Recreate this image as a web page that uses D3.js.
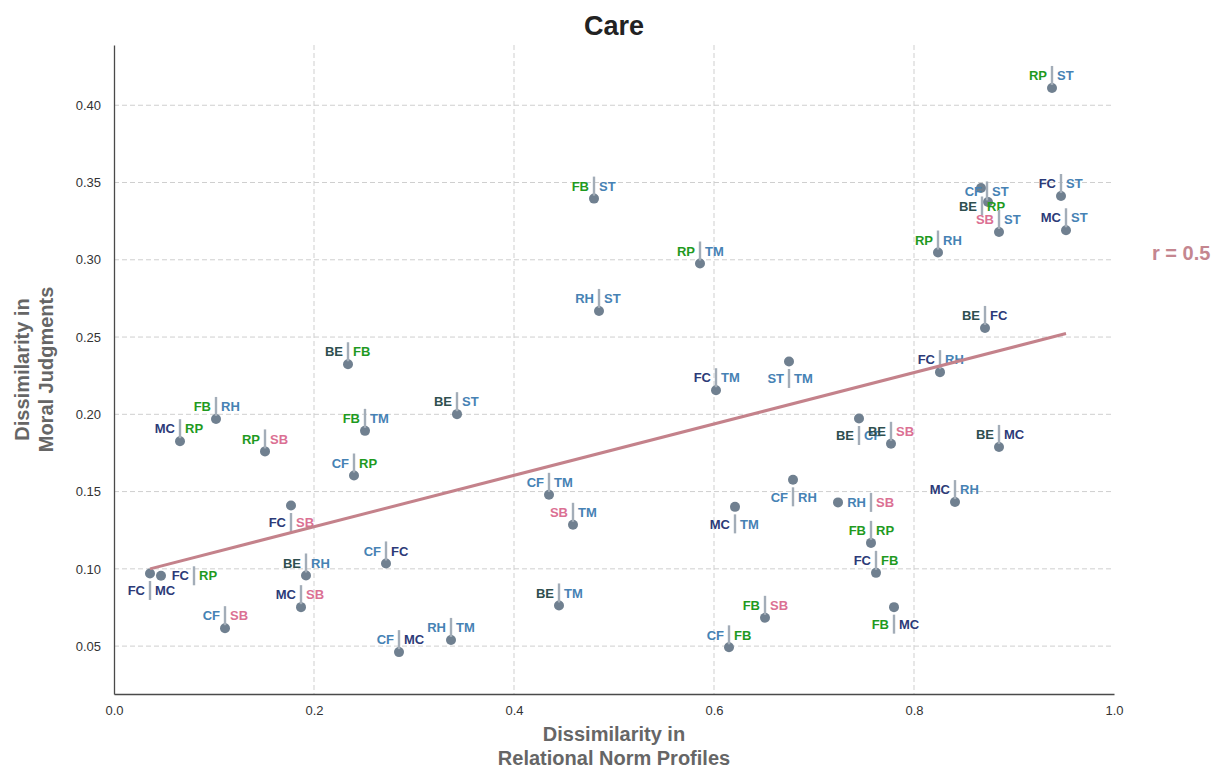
<!DOCTYPE html>
<html>
<head>
<meta charset="utf-8">
<script src="https://cdn.jsdelivr.net/npm/d3@7"></script>
<style>
  html, body { margin: 0; padding: 0; background: #fff; }
  svg { display: block; font-family: "Liberation Sans", Arial, Helvetica, sans-serif; }
</style>
</head>
<body>
<svg id="chart" width="1231" height="770"></svg>
<script>
// Relationship codes and their label colours
const categories = ["BE", "CF", "FB", "FC", "MC", "RH", "RP", "SB", "ST", "TM"];
const categoryColors = ["#2f4f4f", "#4682b4", "#1f9a1f", "#2c3a78", "#2c3a78",
                        "#4682b4", "#1f9a1f", "#db7093", "#4682b4", "#4682b4"];

// Pairwise comparisons: left code, right code
const pairLeft  = ["BE","FB","MC","RP","FB","CF","FC","FC","FC","BE","MC","CF","BE","CF","SB",
                   "CF","BE","RH","CF","FC","BE","BE","CF","RH","MC","FB","FC","FB","CF","FB",
                   "BE","FC","BE","MC","RP","CF","BE","SB","FC","MC","RP","FB","RP","RH","ST"];
const pairRight = ["FB","RH","RP","SB","TM","RP","SB","MC","RP","RH","SB","SB","ST","TM","TM",
                   "FC","TM","TM","MC","TM","CF","SB","RH","SB","TM","RP","FB","SB","FB","MC",
                   "FC","RH","MC","RH","ST","ST","RP","ST","ST","ST","RH","ST","TM","ST","TM"];

// Dissimilarity in relational norm profiles (x)
const normDissim = [0.234,0.102,0.066,0.151,0.251,0.240,0.177,0.036,0.047,0.192,0.187,0.111,0.343,0.435,0.459,
                    0.272,0.445,0.337,0.285,0.602,0.745,0.777,0.679,0.724,0.621,0.757,0.762,0.651,0.615,0.780,
                    0.871,0.826,0.885,0.841,0.938,0.867,0.874,0.885,0.947,0.952,0.824,0.480,0.586,0.485,0.675];

// Dissimilarity in moral judgments (y)
const moralDissim = [0.2324,0.1970,0.1826,0.1760,0.1893,0.1604,0.1410,0.0970,0.0955,0.0957,0.0752,0.0616,0.2001,0.1479,0.1285,
                     0.1035,0.0763,0.0540,0.0461,0.2156,0.1973,0.1809,0.1576,0.1430,0.1401,0.1168,0.0974,0.0683,0.0492,0.0752,
                     0.2559,0.2273,0.1789,0.1432,0.4112,0.3465,0.3374,0.3180,0.3413,0.3191,0.3047,0.3396,0.2976,0.2669,0.2342];

// Label placement relative to each point
const labelSide = ["up","up","up","up","up","up","down","down","right","up","up","up","up","up","up",
                   "up","up","up","up","up","down","up","down","right","down","up","up","up","up","down",
                   "up","up","up","up","up","nudgeR","nudgeL","up","up","up","up","up","up","up","down"];

const xTicks = [0.0, 0.2, 0.4, 0.6, 0.8, 1.0];
const yTicks = [0.05, 0.10, 0.15, 0.20, 0.25, 0.30, 0.35, 0.40];

const M = { left: 114, right: 1114, top: 45, bottom: 694 };

const svg = d3.select("#chart");
const colorOf = d3.scaleOrdinal().domain(categories).range(categoryColors);

const x = d3.scaleLinear().domain([0, 1]).range([M.left, M.right]);
const y = d3.scaleLinear().domain([0.019, 0.439]).range([M.bottom, M.top]);

// Grid
const grid = svg.append("g").attr("stroke", "#cfcfcf").attr("stroke-width", 1)
  .attr("stroke-dasharray", "5,3");
grid.selectAll("line.h").data(yTicks).join("line").attr("class", "h")
  .attr("x1", M.left).attr("x2", M.right)
  .attr("y1", d => y(d)).attr("y2", d => y(d));
grid.selectAll("line.v").data(xTicks.filter(d => d > 0 && d < 1)).join("line").attr("class", "v")
  .attr("y1", M.top).attr("y2", M.bottom)
  .attr("x1", d => x(d)).attr("x2", d => x(d));

// Axes
const xAxis = d3.axisBottom(x).tickValues(xTicks).tickFormat(d3.format(".1f")).tickSize(0).tickPadding(12);
const yAxis = d3.axisLeft(y).tickValues(yTicks).tickFormat(d3.format(".2f")).tickSize(0).tickPadding(13);

const gx = svg.append("g").attr("transform", `translate(0,${M.bottom})`).call(xAxis);
const gy = svg.append("g").attr("transform", `translate(${M.left},0)`).call(yAxis);
gx.select(".domain").attr("stroke", "#4a4a4a").attr("stroke-width", 1.3);
gy.select(".domain").attr("stroke", "#4a4a4a").attr("stroke-width", 1.3);
[gx, gy].forEach(g => g.selectAll("text").attr("font-size", 13).attr("fill", "#333")
  .attr("font-family", "'Liberation Sans', Arial, sans-serif"));

// Points
const pts = normDissim.map((v, i) => ({
  a: pairLeft[i], b: pairRight[i], x: v, y: moralDissim[i], side: labelSide[i]
}));

// Least-squares fit across the pairs
const mx = d3.mean(pts, d => d.x), my = d3.mean(pts, d => d.y);
const slope = d3.sum(pts, d => (d.x - mx) * (d.y - my)) / d3.sum(pts, d => (d.x - mx) ** 2);
const intercept = my - slope * mx;
const [xmin, xmax] = d3.extent(pts, d => d.x);

svg.append("g").selectAll("circle").data(pts).join("circle")
  .attr("cx", d => x(d.x)).attr("cy", d => y(d.y)).attr("r", 5)
  .attr("fill", "#708090");

// Label anchor: centre of the separator bar, in pixels from the point
function anchor(d) {
  switch (d.side) {
    case "down":   return [0, 17];
    case "right":  return [33, 0];
    case "nudgeR": return [6, 3];
    case "nudgeL": return [-6, 4];
    default:       return [0, -12.5];
  }
}

const labels = svg.append("g").selectAll("g").data(pts).join("g")
  .attr("transform", d => {
    const [dx, dy] = anchor(d);
    return `translate(${x(d.x) + dx},${y(d.y) + dy})`;
  });

labels.append("line")
  .attr("x1", 0).attr("x2", 0).attr("y1", -9.5).attr("y2", 9.5)
  .attr("stroke", "#a3adb8").attr("stroke-width", 2.4);

labels.append("text")
  .attr("x", -5).attr("y", 0).attr("dy", "0.36em")
  .attr("text-anchor", "end").attr("font-size", 13).attr("font-weight", "bold")
  .attr("fill", d => colorOf(d.a)).text(d => d.a);

labels.append("text")
  .attr("x", 5).attr("y", 0).attr("dy", "0.36em")
  .attr("text-anchor", "start").attr("font-size", 13).attr("font-weight", "bold")
  .attr("fill", d => colorOf(d.b)).text(d => d.b);

// Regression line
svg.append("line")
  .attr("x1", x(xmin)).attr("y1", y(intercept + slope * xmin))
  .attr("x2", x(xmax)).attr("y2", y(intercept + slope * xmax))
  .attr("stroke", "#c4828b").attr("stroke-width", 3);

// Correlation annotation
svg.append("text").attr("x", 1152).attr("y", 260)
  .attr("font-size", 20).attr("font-weight", "bold").attr("fill", "#c4868f")
  .text("r = 0.5");

// Title
svg.append("text").attr("x", (M.left + M.right) / 2).attr("y", 35)
  .attr("text-anchor", "middle").attr("font-size", 27).attr("font-weight", "bold")
  .attr("fill", "#222").text("Care");

// Axis titles
const xt = svg.append("text").attr("text-anchor", "middle")
  .attr("font-size", 20).attr("font-weight", "bold").attr("fill", "#666");
xt.append("tspan").attr("x", (M.left + M.right) / 2).attr("y", 741).text("Dissimilarity in");
xt.append("tspan").attr("x", (M.left + M.right) / 2).attr("y", 765).text("Relational Norm Profiles");

const yt = svg.append("text").attr("text-anchor", "middle")
  .attr("transform", `translate(0,${(M.top + M.bottom) / 2}) rotate(-90)`)
  .attr("font-size", 20).attr("font-weight", "bold").attr("fill", "#666");
yt.append("tspan").attr("x", 0).attr("y", 29).text("Dissimilarity in");
yt.append("tspan").attr("x", 0).attr("y", 53).text("Moral Judgments");
</script>
</body>
</html>
